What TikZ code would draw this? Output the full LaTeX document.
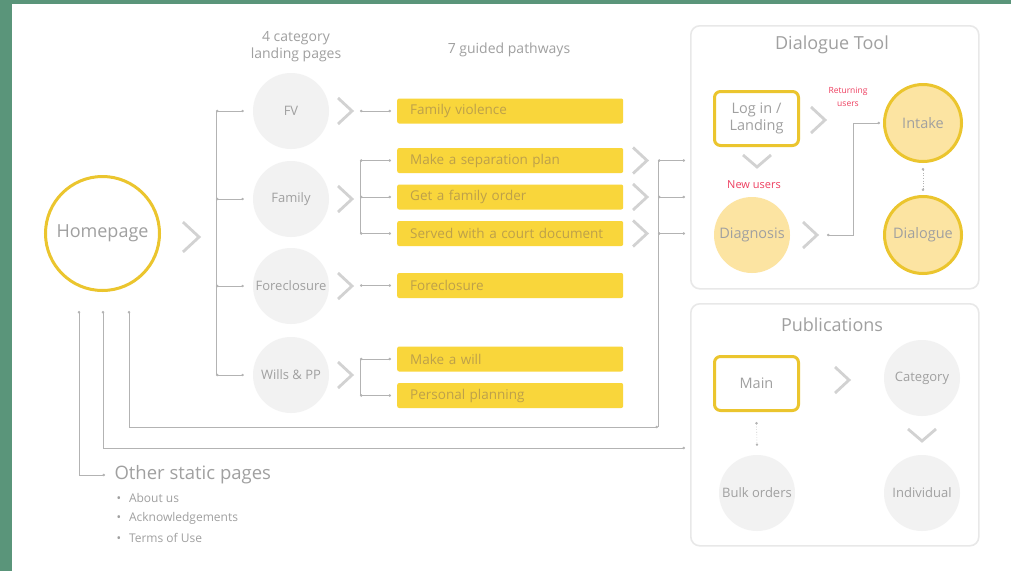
\documentclass[tikz,border=0pt]{standalone}
\usepackage{fontspec}
\setmainfont{Open Sans}
\usetikzlibrary{arrows.meta,calc}
\definecolor{bggreen}{HTML}{5A957A}
\definecolor{txtgray}{HTML}{A0A0A0}
\definecolor{chevgray}{HTML}{D2D2D2}
\definecolor{linegray}{HTML}{B3B3B3}
\definecolor{ring}{HTML}{EBC52E}
\definecolor{bary}{HTML}{F9D63B}
\definecolor{bartxt}{HTML}{BDA04A}
\definecolor{paley}{HTML}{FCE4A2}
\definecolor{catfill}{HTML}{F2F2F2}
\definecolor{panelc}{HTML}{E8E8E8}
\definecolor{redlbl}{HTML}{EE3F60}
\begin{document}
\begin{tikzpicture}[x=1pt,y=-1pt,
  every node/.style={text=txtgray},
  cat/.style={circle, fill=catfill, minimum size=76pt, inner sep=0pt, font=\fontsize{13}{15}\selectfont},
  bar/.style={fill=bary, rounded corners=2pt, minimum height=25pt, text width=200pt, inner xsep=13pt, inner ysep=0pt, align=left, anchor=west, text=bartxt, font=\fontsize{13.5}{15}\selectfont},
  ybox/.style={draw=ring, line width=3pt, rounded corners=6pt, fill=white, minimum width=84pt, minimum height=54pt, inner sep=0pt, align=center, font=\fontsize{14.5}{17}\selectfont},
  ycirc/.style={circle, draw=ring, line width=3pt, fill=paley, minimum size=77pt, inner sep=0pt, font=\fontsize{14.5}{16}\selectfont},
  pcirc/.style={circle, fill=paley, minimum size=76pt, inner sep=0pt, font=\fontsize{14.5}{16}\selectfont},
  panelbox/.style={draw=panelc, line width=1.6pt, rounded corners=9pt, fill=white, anchor=north west, minimum width=288pt, inner sep=0pt},
  ptitle/.style={font=\fontsize{18}{20}\selectfont},
  lbl/.style={font=\fontsize{14}{17}\selectfont, align=center},
  redtxt/.style={text=redlbl, align=center},
  bullet/.style={anchor=west, font=\fontsize{12}{14}\selectfont},
  conn/.style={draw=linegray, line width=0.6pt, {Circle[length=2.4pt]}-{Circle[length=2.4pt]}},
  dconn/.style={conn, dotted},
  bus/.style={draw=linegray, line width=0.6pt},
  chev/.style={draw=chevgray, line width=2.8pt},
  chevR/.pic={\draw[chev] (-7,-13) -- (7,0) -- (-7,13);},
  chevD/.pic={\draw[chev] (-14,-6) -- (0,6) -- (14,-6);}
]
% background and border
\fill[bggreen] (0,0) rectangle (1011,571);
\fill[white] (12,4) rectangle (1011,571);
\useasboundingbox (0,0) rectangle (1011,571);

% headers
\node[lbl] (hcat) at (296,47) {4 category\\landing pages};
\node[lbl] (hpath) at (509,50) {7 guided pathways};

% homepage
\node[circle, draw=ring, line width=3pt, fill=white, minimum size=114pt, inner sep=0pt, font=\fontsize{18}{22}\selectfont] (home) at (102.5,233.5) {Homepage};
\pic[scale=1.15] at (191,237) {chevR};

% category circles
\node[cat] (fv) at (291,111) {FV};
\node[cat] (fam) at (291,199) {Family};
\node[cat] (fore) at (291,286) {Foreclosure};
\node[cat] (wills) at (291,375) {Wills \& PP};
\foreach \yy in {111,199,286,375} \pic at (345,\yy) {chevR};

% bus A
\coordinate (bA) at (216,0);
\draw[bus] (bA |- fv) -- (bA |- wills);
\foreach \n in {fv,fam,fore,wills} \draw[conn] (bA |- \n) -- ([xshift=-9pt]\n.west);

% bars
\node[bar] (b1) at (397,111) {Family violence};
\node[bar] (b2) at (397,160.5) {Make a separation plan};
\node[bar] (b3) at (397,197) {Get a family order};
\node[bar] (b4) at (397,233.5) {Served with a court document};
\node[bar] (b5) at (397,285.5) {Foreclosure};
\node[bar] (b6) at (397,359) {Make a will};
\node[bar] (b7) at (397,395.5) {Personal planning};

% bus B
\coordinate (bB) at (360,0);
\draw[bus] (bB |- b2) -- (bB |- b4);
\draw[bus] (bB |- b6) -- (bB |- b7);
\foreach \n in {b1,b2,b3,b4,b5,b6,b7} \draw[conn] (bB |- \n) -- ([xshift=-6pt]\n.west);

% chevrons after family pathways
\foreach \yy in {160.5,197,233.5} \pic at (640,\yy) {chevR};

% panels
\node[panelbox, minimum height=263pt] (dtp) at (690,25) {};
\node[ptitle] (dtt) at (832,45) {Dialogue Tool};
\node[panelbox, minimum height=242pt] (pub) at (690,303) {};
\node[ptitle] (pubt) at (832,325) {Publications};

% bus C
\coordinate (bC) at (658,0);
\coordinate (c427) at (658,427);
\draw[bus] (bC |- b2) -- (c427);
\foreach \n in {b2,b3,b4} \draw[conn] (bC |- \n) -- (685,0 |- \n);

% lines from homepage
\coordinate (h1) at (79,311);
\coordinate (h2) at (103,311);
\coordinate (h3) at (129,311);
\coordinate (pubin) at (685,448);
\draw[conn] (h3) |- (c427);
\draw[conn] (h2) |- (pubin);

% other static pages
\node[anchor=west, font=\fontsize{18.5}{20}\selectfont] (osp) at (111,475) {Other static pages};
\draw[conn] (h1) |- ([xshift=-6pt]osp.west);
\node[bullet] (s1) at (113,498) {•\hspace{8pt}About us};
\node[bullet] (s2) at (113,518) {•\hspace{8pt}Acknowledgements};
\node[bullet] (s3) at (113,538) {•\hspace{8pt}Terms of Use};

% dialogue tool contents
\node[ybox] (login) at (756.5,118.5) {Log in /\\Landing};
\pic at (818,120) {chevR};
\node[redtxt, font=\fontsize{8.5}{13}\selectfont] (ret) at (848,97) {Returning\\users};
\node[ycirc] (intake) at (923,123) {Intake};
\node[ycirc] (dial) at (923,235) {Dialogue};
\pic at (757,161) {chevD};
\node[redtxt, font=\fontsize{11}{12}\selectfont] (newu) at (754,185) {New users};
\node[pcirc] (diag) at (752,235) {Diagnosis};
\pic at (810,235) {chevR};
\coordinate (dstart) at (827,235);
\coordinate (dmid) at (853,235);
\draw[conn] (dstart) -- (dmid) |- ([xshift=-3pt]intake.west);
\draw[dconn] ([yshift=-5pt]intake.south) -- ([yshift=4pt]dial.north);

% publications contents
\node[ybox] (main) at (756.5,383.5) {Main};
\pic at (842,380) {chevR};
\node[cat] (categ) at (922,378) {Category};
\pic at (922,435) {chevD};
\node[cat] (indiv) at (922,493) {Individual};
\node[cat] (bulk) at (757,493) {Bulk orders};
\draw[dconn] ([yshift=-10pt]main.south) -- ([yshift=9pt]bulk.north);
\end{tikzpicture}
\end{document}
